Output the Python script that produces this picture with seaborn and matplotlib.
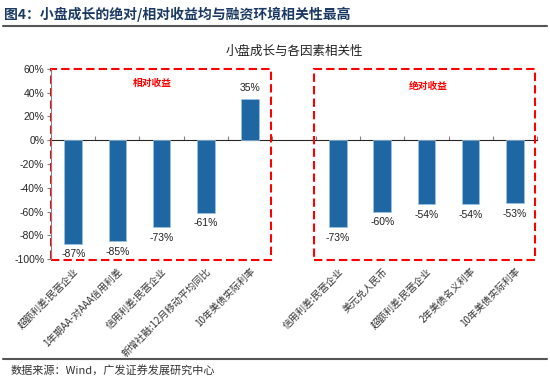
import numpy as np
import pandas as pd
import matplotlib.pyplot as plt
import seaborn as sns
from matplotlib.patches import Rectangle

sns.set_style("white")
plt.rcParams['font.family'] = ['Noto Sans CJK SC', 'DejaVu Sans']
plt.rcParams['axes.unicode_minus'] = False

# 数据
labels = ['超额利差:民营企业', '1年期AA-对AAA信用利差', '信用利差:民营企业',
          '新增社融:12月移动平均同比', '10年美债实际利率', '',
          '信用利差:民营企业', '美元兑人民币', '超额利差:民营企业',
          '2年美债名义利率', '10年美债实际利率']
values = [-87, -85, -73, -61, 35, np.nan, -73, -60, -54, -54, -53]
yticks = [60, 40, 20, 0, -20, -40, -60, -80, -100]

df = pd.DataFrame({'pos': range(len(labels)), 'val': values})

fig = plt.figure(figsize=(5.5, 3.81), dpi=100)
ax = fig.add_axes([0.093, 0.32, 0.883, 0.499])

sns.barplot(data=df, x='pos', y='val', color='#1f67a3', width=0.4,
            edgecolor='#9cc3e6', linewidth=0.5, ax=ax, saturation=1)

ax.set_ylim(-100, 60)
ax.set_xlim(-0.5, len(labels) - 0.5)
ax.set_yticks(yticks)
ax.set_yticklabels([f'{t}%' for t in yticks], fontsize=7.5, family='Liberation Sans')
ax.set_xticks(range(len(labels)))
ax.set_xticklabels(labels, rotation=45, ha='right', rotation_mode='anchor', fontsize=7, color='#333333')
ax.tick_params(axis='x', length=0, pad=5)
ax.tick_params(axis='y', length=3, color='#808080', direction='out', left=True, pad=2)
ax.set_xlabel('')
ax.set_ylabel('')
for s in ['top', 'right', 'bottom']:
    ax.spines[s].set_visible(False)
ax.spines['left'].set_color('#808080')

# 零轴与分类刻度
sec = ax.secondary_xaxis(100 / 160)
sec.set_xticks(np.arange(-0.5, len(labels), 1))
sec.set_xticklabels([])
sec.tick_params(length=3, color='#808080', direction='out')
sec.spines['bottom'].set_color('#808080')
sec.spines['bottom'].set_linewidth(1.2)

# 数值标签
for i, v in enumerate(values):
    if np.isnan(v):
        continue
    off = 4 if v > 0 else -4
    ax.annotate(f'{v:.0f}%', (i, v), xytext=(0, off), textcoords='offset points',
                ha='center', va='bottom' if v > 0 else 'top', fontsize=7.5,
                family='Liberation Sans', color='#222222')

# 红色虚线框
ax.add_patch(Rectangle((-0.5, -101), 4.97, 161, fill=False, edgecolor='red',
                       linestyle=(0, (4, 2)), linewidth=1.5, clip_on=False))
ax.add_patch(Rectangle((5.46, -101), 5.0, 161, fill=False, edgecolor='red',
                       linestyle=(0, (4, 2)), linewidth=1.5, clip_on=False))
ax.text(1.8, 48, '相对收益', color='red', fontsize=7, fontweight='bold', ha='center', va='center')
ax.text(8.05, 46, '绝对收益', color='red', fontsize=7, fontweight='bold', ha='center', va='center')

ax.set_title('小盘成长与各因素相关性', fontsize=9, pad=10, color='#222222')

# 页眉页脚
fig.text(0.008, 0.962, '图4：小盘成长的绝对/相对收益均与融资环境相关性最高', fontsize=10,
         fontweight='bold', color='#1b3a63', va='center')
fig.add_artist(plt.Line2D([0.005, 0.995], [0.933, 0.933], color='#555555', linewidth=1.5))
fig.add_artist(plt.Line2D([0.005, 0.995], [0.058, 0.058], color='#555555', linewidth=1.5))
fig.text(0.02, 0.028, '数据来源：Wind，广发证券发展研究中心', fontsize=8, color='#333333', va='center')

plt.savefig('out.png', dpi=100)
